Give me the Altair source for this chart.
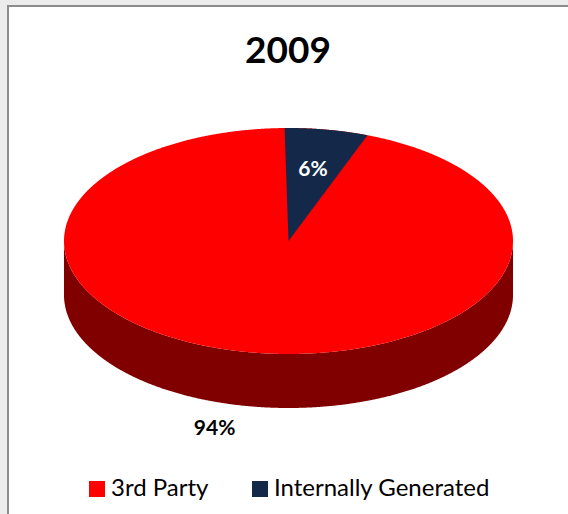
import math
import altair as alt
import pandas as pd

# ---- data ----
categories = ["3rd Party", "Internally Generated"]
values = [94, 6]
title_text = "2009"

# ---- style ----
colors = ["#FF0000", "#14284A"]
side_color = "#800000"
FONT = "Lato"

# ---- layout (units: ellipse radius = 1) ----
W, H = 568, 514
TOP = 80
CX, CY, RX_PX, RY_PX = 288.5, 241.0, 224.5, 113.0
DEPTH = 54.0 / RY_PX
ROT = -1.0  # start angle of first drawn slice (degrees, clockwise from 12 o'clock)

xs = alt.Scale(domain=[-CX / RX_PX, (W - CX) / RX_PX], nice=False, zero=False)
ys = alt.Scale(domain=[(CY - H) / RY_PX, (CY - TOP) / RY_PX], nice=False, zero=False)

total = sum(values)
# navy slice starts at 12 o'clock, then the red slice
t0 = ROT
t1 = ROT + 360.0 * values[1] / total
mid_int = (t0 + t1) / 2
mid_ext = (t1 + t0 + 360) / 2

color_scale = alt.Scale(domain=categories, range=colors)
legend = alt.Legend(
    title=None, orient="none", direction="horizontal",
    legendX=85, legendY=397, symbolType="square", symbolSize=256,
    symbolStrokeWidth=0, labelFontSize=24, labelFont=FONT, labelLimit=0,
    labelColor="#000000", labelOffset=2, columnPadding=39, padding=0,
)

X = lambda: alt.X("x:Q", scale=xs, axis=None)
Y = lambda: alt.Y("y:Q", scale=ys, axis=None)

side = alt.Chart(alt.sequence(-90, 90.25, 0.25, as_="t")).transform_calculate(
    x="sin(datum.t*PI/180)",
    y="-cos(datum.t*PI/180)",
    y2=f"-cos(datum.t*PI/180)-{DEPTH}",
).mark_area(color=side_color).encode(x=X(), y=Y(), y2="y2:Q")

top_face = alt.Chart(alt.sequence(-90, 90.25, 0.25, as_="t")).transform_calculate(
    x="sin(datum.t*PI/180)",
    y="cos(datum.t*PI/180)",
    y2="-cos(datum.t*PI/180)",
    cat=f"'{categories[0]}'",
).mark_area().encode(
    x=X(), y=Y(), y2="y2:Q",
    color=alt.Color("cat:N", scale=color_scale, legend=legend),
)

c0 = math.cos(math.radians(t0)) / math.sin(math.radians(t0))
c1 = math.cos(math.radians(t1)) / math.sin(math.radians(t1))
wedge = alt.Chart(alt.sequence(t0, t1 + 0.05, 0.1, as_="t")).transform_calculate(
    x="sin(datum.t*PI/180)",
    y="cos(datum.t*PI/180)",
    y2=f"datum.x < 0 ? datum.x*({c0}) : datum.x*({c1})",
    cat=f"'{categories[1]}'",
).mark_area().encode(
    x=X(), y=Y(), y2="y2:Q",
    color=alt.Color("cat:N", scale=color_scale, legend=legend),
)

pct = [f"{round(100 * v / total)}%" for v in values]
lab_int = pd.DataFrame({
    "label": [pct[1]],
    "x": [math.sin(math.radians(mid_int)) * 0.64],
    "y": [math.cos(math.radians(mid_int)) * 0.64],
})
lab_ext = pd.DataFrame({
    "label": [pct[0]],
    "x": [math.sin(math.radians(mid_ext)) * 1.2],
    "y": [math.cos(math.radians(mid_ext)) * 1.2 - DEPTH],
})
t_int = alt.Chart(lab_int).mark_text(
    font=FONT, fontSize=21, fontWeight="bold", color="white", baseline="middle"
).encode(x=X(), y=Y(), text="label:N")
t_ext = alt.Chart(lab_ext).mark_text(
    font=FONT, fontSize=21, fontWeight="bold", color="black", baseline="middle", dx=-28
).encode(x=X(), y=Y(), text="label:N")

title = alt.Chart(pd.DataFrame({"t": [title_text]})).mark_text(
    font=FONT, fontSize=37, fontWeight="bold", color="black",
    align="center", baseline="alphabetic",
).encode(x=alt.value(288), y=alt.value(63 - TOP), text="t:N")

# frame of the sheet (decoration)
frame_top = alt.Chart().mark_rule(color="#8c8c8c", strokeWidth=2).encode(
    x=alt.value(7), x2=alt.value(W), y=alt.value(6 - TOP))
frame_left = alt.Chart().mark_rule(color="#8c8c8c", strokeWidth=2).encode(
    x=alt.value(8), y=alt.value(6 - TOP), y2=alt.value(H - TOP))
band_top = alt.Chart().mark_rect(color="#ececec").encode(
    x=alt.value(0), x2=alt.value(W), y=alt.value(-TOP), y2=alt.value(5 - TOP))
band_left = alt.Chart().mark_rect(color="#ececec").encode(
    x=alt.value(0), x2=alt.value(7), y=alt.value(-TOP), y2=alt.value(H - TOP))

chart = alt.layer(
    band_top, band_left, frame_top, frame_left,
    side, top_face, wedge, t_int, t_ext, title,
).properties(
    width=W, height=H - TOP,
    padding={"left": 0, "top": TOP, "right": 0, "bottom": 0},
    autosize=alt.AutoSizeParams(type="none"),
).configure_view(stroke=None)

chart.save("out.html", embed_options={"renderer": "svg", "actions": False})
